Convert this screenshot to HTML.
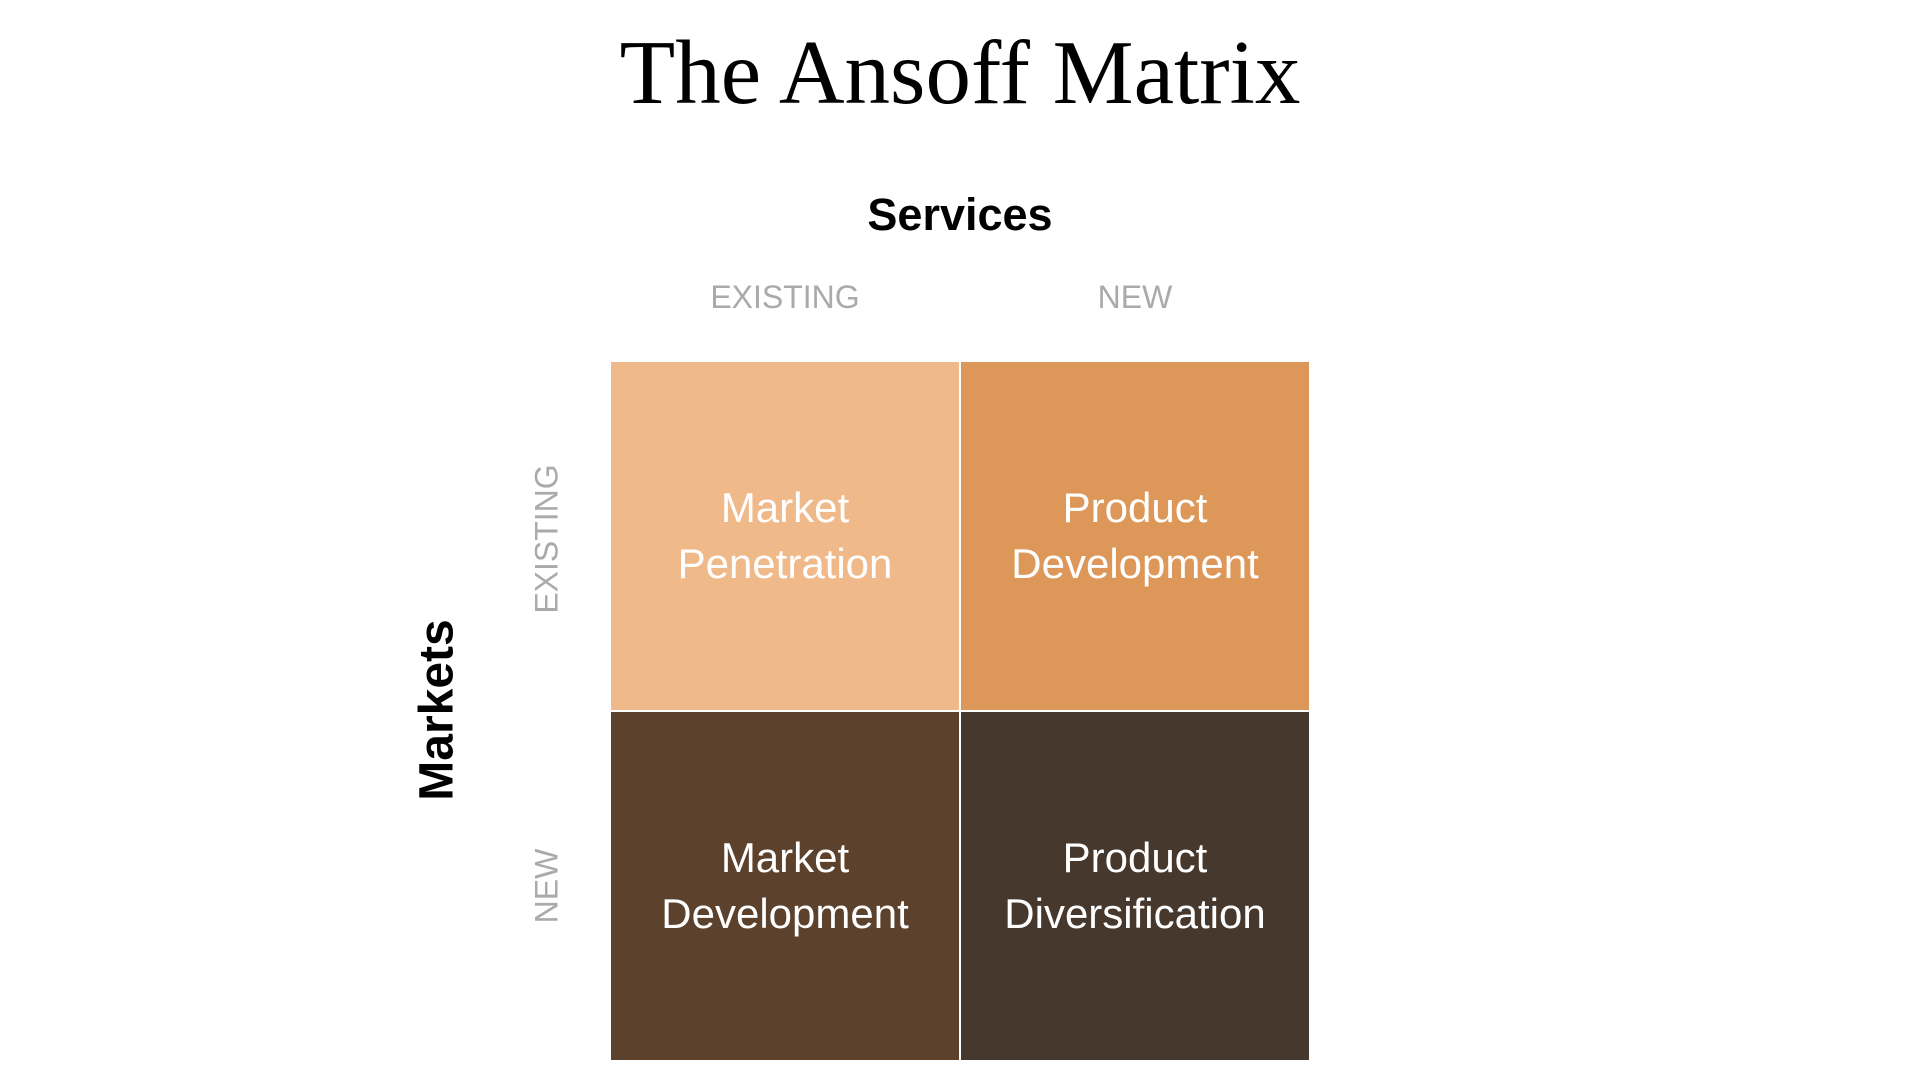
<!DOCTYPE html>
<html><head><style>
body{margin:0;width:1920px;height:1080px;background:#fff;position:relative;overflow:hidden;font-family:"Liberation Sans",sans-serif}
.a{position:absolute}
.t{left:0;width:1920px;text-align:center;top:20px;font-family:"Liberation Serif",serif;font-size:91px;color:#000}
.s{left:0;width:1920px;text-align:center;top:189px;font-weight:bold;font-size:45px;color:#000}
.cl{top:279px;width:348px;text-align:center;font-size:32px;color:#aaa}
.cell{width:348px;height:348px;display:flex;align-items:center;justify-content:center;text-align:center;color:#fff;font-size:42px;line-height:56px}
.rot{transform:translate(-50%,-50%) rotate(-90deg);white-space:nowrap}
</style></head><body>
<div class="a t">The Ansoff Matrix</div>
<div class="a s">Services</div>
<div class="a cl" style="left:611px">EXISTING</div>
<div class="a cl" style="left:961px">NEW</div>
<div class="a cell" style="left:611px;top:362px;background:#F0B98A">Market<br>Penetration</div>
<div class="a cell" style="left:961px;top:362px;background:#DD9759">Product<br>Development</div>
<div class="a cell" style="left:611px;top:712px;background:#5C412D">Market<br>Development</div>
<div class="a cell" style="left:961px;top:712px;background:#47382D">Product<br>Diversification</div>
<div class="a rot" style="left:437px;top:710px;font-weight:bold;font-size:48px;color:#000">Markets</div>
<div class="a rot" style="left:547px;top:539px;font-size:32px;color:#aaa">EXISTING</div>
<div class="a rot" style="left:547px;top:886px;font-size:32px;color:#aaa">NEW</div>
</body></html>
